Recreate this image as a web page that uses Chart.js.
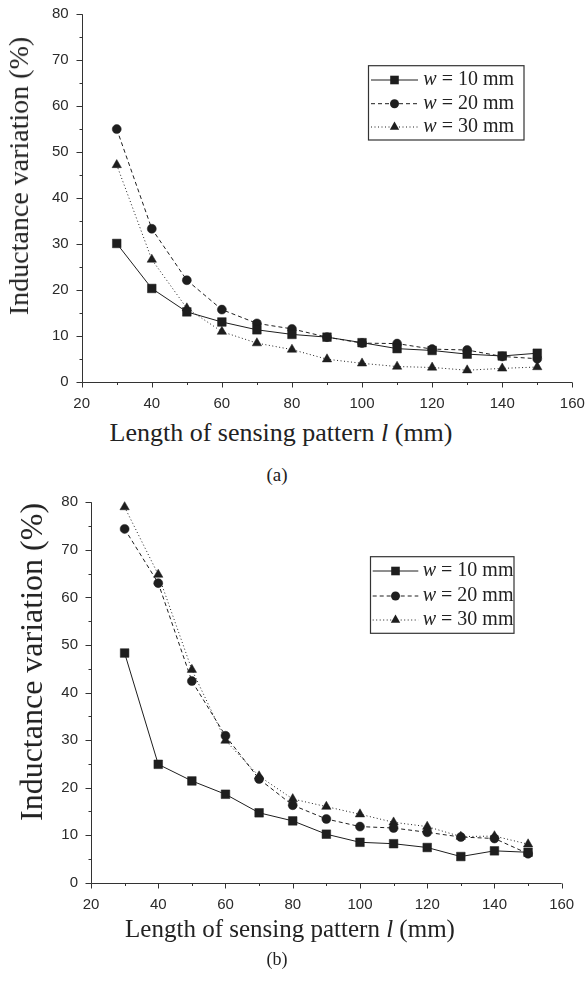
<!DOCTYPE html>
<html>
<head>
<meta charset="utf-8">
<script src="https://cdn.jsdelivr.net/npm/chart.js@4.4.1/dist/chart.umd.min.js"></script>
<style>
body{margin:0;background:#fff;}
#page{position:relative;width:586px;height:981px;overflow:hidden;background:#fff;}
canvas{position:absolute;left:0;}
.lbl{position:absolute;font-family:"Liberation Serif","Times New Roman",serif;color:#222;white-space:nowrap;line-height:1;transform:translate(-50%,-50%);}
.ytitle{transform:translate(-50%,-50%) rotate(-90deg);}
</style>
</head>
<body>
<div id="page">
  <canvas id="chartA" width="586" height="415" style="top:0"></canvas>
  <canvas id="chartB" width="586" height="425" style="top:490px"></canvas>

  <div class="lbl ytitle" style="left:18.5px;top:176px;font-size:28px">Inductance variation (%)</div>
  <div class="lbl" style="left:281px;top:433px;font-size:26px">Length of sensing pattern <i>l</i> (mm)</div>
  <div class="lbl" style="left:277px;top:474px;font-size:19px">(a)</div>

  <div class="lbl ytitle" style="left:31px;top:662px;font-size:32px">Inductance variation (%)</div>
  <div class="lbl" style="left:290px;top:928px;font-size:25px">Length of sensing pattern <i>l</i> (mm)</div>
  <div class="lbl" style="left:277px;top:959px;font-size:18px">(b)</div>
</div>
<script>
// lengths of sensing pattern (mm)
const lengths = [30, 40, 50, 60, 70, 80, 90, 100, 110, 120, 130, 140, 150];
const seriesNames = ["w = 10 mm", "w = 20 mm", "w = 30 mm"];
const xTicks = [20, 40, 60, 80, 100, 120, 140, 160];
const yTicks = [0, 10, 20, 30, 40, 50, 60, 70, 80];

// figure (a)
const varA10 = [30.1, 20.3, 15.2, 13.0, 11.3, 10.3, 9.7, 8.5, 7.2, 6.8, 6.0, 5.6, 6.2];
const varA20 = [55.0, 33.3, 22.1, 15.7, 12.7, 11.5, 9.7, 8.4, 8.3, 7.1, 6.9, 5.5, 5.0];
const varA30 = [47.2, 26.6, 16.0, 10.9, 8.4, 7.0, 4.9, 4.0, 3.3, 3.1, 2.5, 2.9, 3.2];

// figure (b)
const varB10 = [48.3, 24.9, 21.4, 18.6, 14.7, 13.0, 10.2, 8.5, 8.2, 7.4, 5.5, 6.7, 6.4];
const varB20 = [74.4, 63.0, 42.4, 30.9, 21.8, 16.3, 13.4, 11.8, 11.5, 10.6, 9.6, 9.3, 6.1];
const varB30 = [79.0, 64.8, 44.8, 29.9, 22.4, 17.6, 16.0, 14.4, 12.7, 11.8, 9.7, 9.8, 8.1];

const ink = "#1e1e1e";
const styles = [
    {pointStyle: "rect", radius: 6.1, dash: []},
    {pointStyle: "circle", radius: 4.5, dash: [4, 3]},
    {pointStyle: "triangle", radius: 5.4, dash: [1, 2.5]}
];

Chart.defaults.font.family = '"Liberation Sans", Arial, sans-serif';
Chart.defaults.font.size = 15;
Chart.defaults.color = "#2a2a2a";

function drawMarker(ctx, style, x, y){
    ctx.beginPath();
    if(style === "rect"){
        ctx.rect(x - 4.3, y - 4.3, 8.6, 8.6);
    } else if(style === "circle"){
        ctx.arc(x, y, 4.5, 0, Math.PI * 2);
    } else {
        const r = 5.4;
        ctx.moveTo(x, y - r);
        ctx.lineTo(x + r * 0.866, y + r / 2);
        ctx.lineTo(x - r * 0.866, y + r / 2);
        ctx.closePath();
    }
    ctx.fill();
}

// axis lines with long major and short minor ticks
const axesPlugin = {
    id: "originAxes",
    afterDraw(chart){
        const ctx = chart.ctx, a = chart.chartArea;
        const xs = chart.scales.x, ys = chart.scales.y;
        const left = Math.round(a.left) + 0.5, bottom = Math.round(a.bottom) + 0.5;
        ctx.save();
        ctx.strokeStyle = "#333";
        ctx.lineWidth = 1;
        ctx.beginPath();
        ctx.moveTo(left, a.top);
        ctx.lineTo(left, bottom);
        ctx.lineTo(a.right, bottom);
        xs.ticks.forEach(t=>{
            const px = Math.round(xs.getPixelForValue(t.value)) + 0.5;
            const len = xTicks.includes(t.value) ? 5 : 2.5;
            ctx.moveTo(px, bottom);
            ctx.lineTo(px, bottom + len);
        });
        ys.ticks.forEach(t=>{
            const py = Math.round(ys.getPixelForValue(t.value)) + 0.5;
            const len = yTicks.includes(t.value) ? 6 : 3;
            ctx.moveTo(left, py);
            ctx.lineTo(left - len, py);
        });
        ctx.stroke();
        ctx.restore();
    }
};

// Origin-style legend: line sample with marker, italic w
const legendPlugin = {
    id: "lineLegend",
    afterDraw(chart, args, opts){
        const ctx = chart.ctx;
        ctx.save();
        ctx.fillStyle = "#fff";
        ctx.fillRect(opts.box[0], opts.box[1], opts.box[2], opts.box[3]);
        ctx.strokeStyle = "#333";
        ctx.lineWidth = 1.2;
        ctx.strokeRect(opts.box[0], opts.box[1], opts.box[2], opts.box[3]);
        chart.data.datasets.forEach((ds, i)=>{
            const y = opts.rows[i];
            ctx.strokeStyle = ink;
            ctx.lineWidth = 1;
            ctx.setLineDash(styles[i].dash);
            ctx.beginPath();
            ctx.moveTo(opts.x1, y);
            ctx.lineTo(opts.x2, y);
            ctx.stroke();
            ctx.setLineDash([]);
            ctx.fillStyle = ink;
            drawMarker(ctx, styles[i].pointStyle, (opts.x1 + opts.x2) / 2, y);
            ctx.fillStyle = "#222";
            ctx.textBaseline = "middle";
            ctx.font = 'italic 20px "Liberation Serif"';
            const first = ds.label.charAt(0);
            ctx.fillText(first, opts.textX, y);
            const w = ctx.measureText(first).width;
            ctx.font = '20px "Liberation Serif"';
            ctx.fillText(ds.label.slice(1), opts.textX + w, y);
        });
        ctx.restore();
    }
};

function makeChart(id, series, lay){
    return new Chart(document.getElementById(id), {
        type: "line",
        data: {
            datasets: series.map((vals, i)=>({
                label: seriesNames[i],
                data: lengths.map((l, k)=>({x: l, y: vals[k]})),
                borderColor: ink,
                borderWidth: 1,
                borderDash: styles[i].dash,
                pointStyle: styles[i].pointStyle,
                pointRadius: styles[i].radius,
                pointBackgroundColor: ink,
                pointBorderColor: ink,
                pointBorderWidth: 0.5,
                tension: 0,
                clip: false
            }))
        },
        options: {
            responsive: false,
            animation: false,
            layout: {padding: lay.padding},
            plugins: {
                legend: {display: false},
                tooltip: {enabled: false},
                lineLegend: lay.legend
            },
            scales: {
                x: {
                    type: "linear",
                    min: 20, max: 160,
                    grid: {display: false, drawTicks: false},
                    border: {display: false},
                    ticks: {
                        stepSize: 10, autoSkip: false, maxRotation: 0, padding: 13,
                        callback: v => xTicks.includes(v) ? v : ""
                    },
                    afterFit: s => { s.height = 30; s.paddingLeft = 0; s.paddingRight = 0; }
                },
                y: {
                    min: 0, max: 80,
                    grid: {display: false, drawTicks: false},
                    border: {display: false},
                    ticks: {
                        stepSize: 5, autoSkip: false, padding: 13,
                        callback: v => yTicks.includes(v) ? v : ""
                    },
                    afterFit: s => { s.width = lay.yWidth; s.paddingTop = 0; s.paddingBottom = 0; }
                }
            }
        },
        plugins: [axesPlugin, legendPlugin]
    });
}

makeChart("chartA", [varA10, varA20, varA30], {
    padding: {left: 0, right: 13.7, top: 14.3, bottom: 3.3},
    yWidth: 81.7,
    legend: {box: [368.5, 65.7, 155.5, 74.3], rows: [80, 103.7, 127], x1: 371, x2: 418, textX: 423.3}
});

makeChart("chartB", [varB10, varB20, varB30], {
    padding: {left: 0, right: 24.3, top: 12.3, bottom: 2.3},
    yWidth: 91,
    legend: {box: [370.5, 66.7, 143.5, 76.6], rows: [81, 106, 130], x1: 372.7, x2: 418.3, textX: 422.7}
});
</script>
</body>
</html>
